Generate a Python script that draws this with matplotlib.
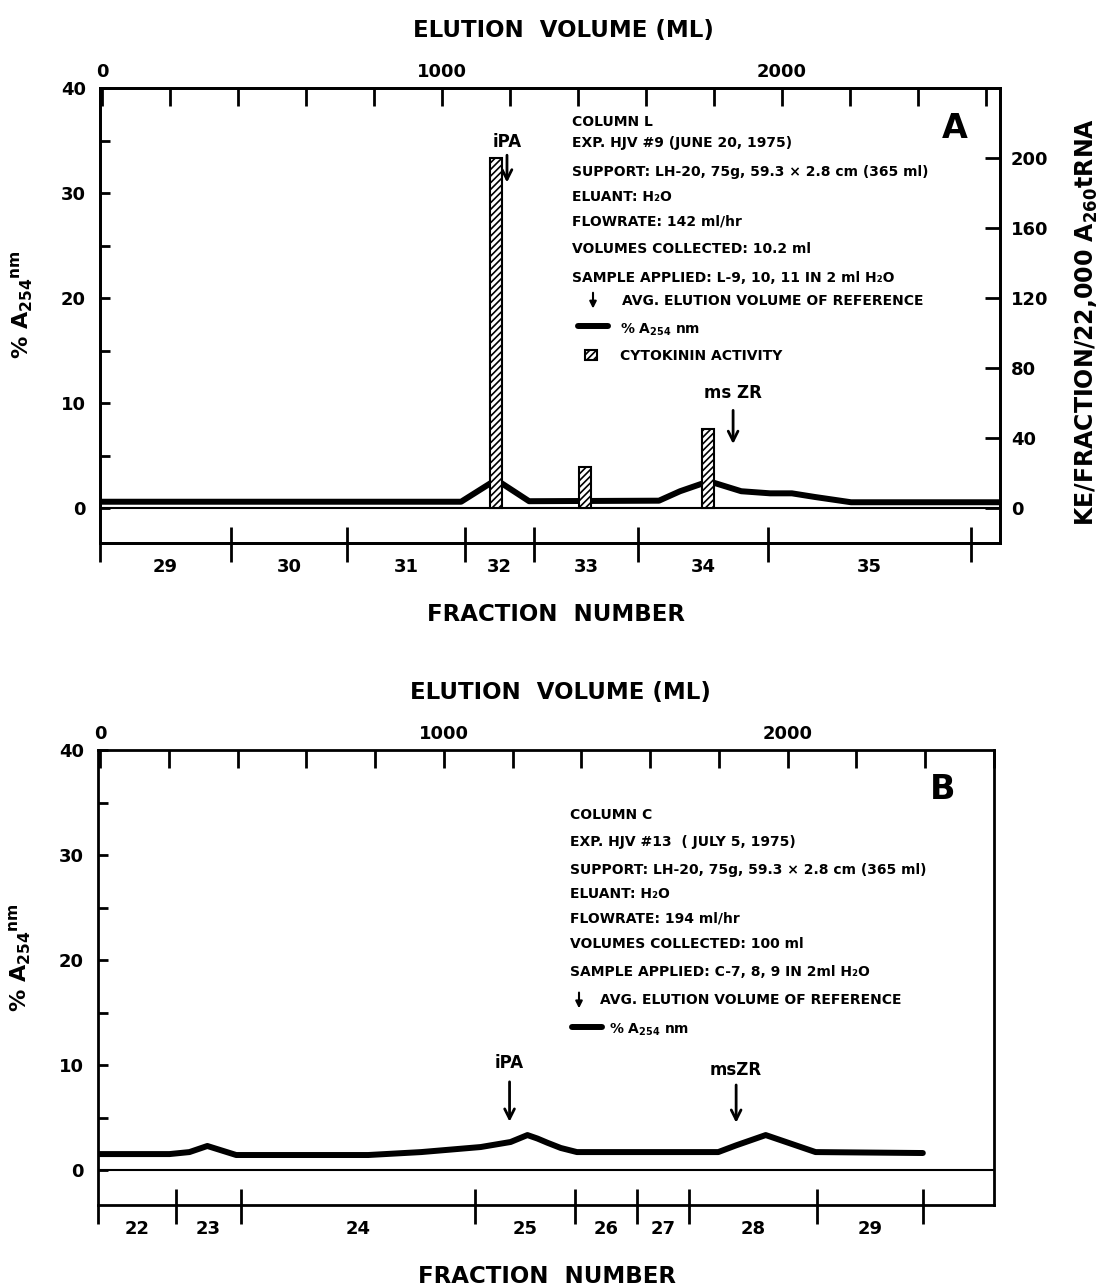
import matplotlib
matplotlib.use('Agg')
import matplotlib.pyplot as plt
from matplotlib.patches import Rectangle

plt.rcParams['font.family'] = ['DejaVu Sans']
plt.rcParams['font.weight'] = 'bold'
plt.rcParams['mathtext.default'] = 'bf'
plt.rcParams['hatch.linewidth'] = 1.2

# ---------------- data ----------------
vol_ticks = list(range(0, 2700, 200))
vol_labelled = [0, 1000, 2000]
pct_ticks = list(range(0, 45, 5))
ke_ticks = list(range(0, 240, 40))

# Panel A
A_curve_ml = [-6, 1056, 1159, 1256, 1638, 1700, 1785, 1880, 1965, 2029, 2097, 2203, 2641]
A_curve_pct = [0.6, 0.6, 2.7, 0.65, 0.7, 1.6, 2.55, 1.6, 1.4, 1.4, 1.05, 0.55, 0.55]
A_bar_ml = [1159, 1421, 1782]
A_bar_ke = [200, 23.4, 45]
A_frac_numbers = [29, 30, 31, 32, 33, 34, 35]
A_frac_edges = [379, 721, 1068, 1271, 1576, 1959, 2556]
A_ref_names = ['iPA', 'ms ZR']
A_ref_ml = [1191, 1856]
A_info = ["COLUMN L",
          "EXP. HJV #9 (JUNE 20, 1975)",
          "SUPPORT: LH-20, 75g, 59.3 \u00d7 2.8 cm (365 ml)",
          "ELUANT: H\u2082O",
          "FLOWRATE: 142 ml/hr",
          "VOLUMES COLLECTED: 10.2 ml",
          "SAMPLE APPLIED: L-9, 10, 11 IN 2 ml H\u2082O"]

# Panel B
B_curve_ml = [-6, 202, 260, 312, 396, 780, 934, 1107, 1194, 1243, 1272, 1301, 1340, 1387, 1798, 1850, 1936, 2081, 2393]
B_curve_pct = [1.52, 1.52, 1.71, 2.29, 1.43, 1.43, 1.71, 2.19, 2.67, 3.33, 3.0, 2.6, 2.1, 1.71, 1.71, 2.35, 3.33, 1.71, 1.62]
B_frac_numbers = [22, 23, 24, 25, 26, 27, 28, 29]
B_frac_edges = [220, 410, 1090, 1382, 1561, 1714, 2084, 2393]
B_ref_names = ['iPA', 'msZR']
B_ref_ml = [1191, 1850]
B_info = ["COLUMN C",
          "EXP. HJV #13  ( JULY 5, 1975)",
          "SUPPORT: LH-20, 75g, 59.3 \u00d7 2.8 cm (365 ml)",
          "ELUANT: H\u2082O",
          "FLOWRATE: 194 ml/hr",
          "VOLUMES COLLECTED: 100 ml",
          "SAMPLE APPLIED: C-7, 8, 9 IN 2ml H\u2082O"]

legend_ref = "AVG. ELUTION VOLUME OF REFERENCE"
legend_curve = "% A$_{254}$ nm"
legend_bar = "CYTOKININ ACTIVITY"

W, H = 1102, 1286
INFO_FS = 10
fig = plt.figure(figsize=(W / 100, H / 100), dpi=100)


def px_rect(left, top, right, bottom):
    return [left / W, 1 - bottom / H, (right - left) / W, (bottom - top) / H]


def make_panel(rect, xlim, curve_ml, curve_pct, edges, numbers, ref_ml, ref_names,
               ref_label_y, ref_arrow, letter, letter_xy, info, info_x, info_y,
               el_x, fr_x):
    ax = fig.add_axes(rect)
    ax.set_xlim(xlim)
    ax.set_ylim(-3.33, 40)
    for s in ax.spines.values():
        s.set_linewidth(2)
    ax.xaxis.tick_top()
    ax.set_xticks(vol_ticks)
    ax.set_xticklabels([str(t) if t in vol_labelled else '' for t in vol_ticks])
    ax.tick_params(axis='x', direction='in', length=13, width=2, pad=5,
                   labelsize=13, top=True, bottom=False)
    ax.set_yticks(pct_ticks)
    ax.set_yticklabels([str(t) if t % 10 == 0 else '' for t in pct_ticks])
    ax.tick_params(axis='y', direction='in', length=7, width=2, pad=10,
                   labelsize=13, right=False)
    ax.axhline(0, color='k', lw=1.5)
    ax.plot(curve_ml, curve_pct, color='k', lw=4.3, solid_joinstyle='round',
            solid_capstyle='round')
    # fraction strip
    ax.vlines(edges, -1.8, -5.14, color='k', lw=2, clip_on=False)
    ax.vlines([xlim[0]], -3.33, -5.14, color='k', lw=2, clip_on=False)
    bounds = [xlim[0]] + list(edges)
    for i, n in enumerate(numbers):
        ax.text((bounds[i] + bounds[i + 1]) / 2, -5.6, str(n), ha='center',
                va='center', fontsize=13, clip_on=False)
    ax.text(fr_x, -10.1, "FRACTION  NUMBER", ha='center', va='center',
            fontsize=16.5, clip_on=False)
    ax.text(el_x, 45.5, "ELUTION  VOLUME (ML)", ha='center', va='center',
            fontsize=16.5, clip_on=False)
    # reference arrows
    for x, name, ly, (y0, y1) in zip(ref_ml, ref_names, ref_label_y, ref_arrow):
        ax.text(x, ly, name, ha='center', va='center', fontsize=12)
        ax.annotate('', xy=(x, y1), xytext=(x, y0),
                    arrowprops=dict(arrowstyle='->,head_length=0.7,head_width=0.35',
                                    lw=2, color='k', shrinkA=0, shrinkB=0))
    ax.text(letter_xy[0], letter_xy[1], letter, ha='center', va='center',
            fontsize=24, fontweight='bold')
    for t, y in zip(info, info_y):
        ax.text(info_x, y, t, ha='left', va='center', fontsize=INFO_FS)
    return ax


# ---------------- panel A ----------------
axA = make_panel(px_rect(100, 88, 1000, 543), (-6, 2641), A_curve_ml, A_curve_pct,
                 A_frac_edges, A_frac_numbers, A_ref_ml, A_ref_names,
                 [34.9, 10.95], [(33.6, 31.0), (9.3, 6.1)], 'A', (2509, 36.1),
                 A_info, 1382, [36.8, 34.8, 32.0, 29.6, 27.3, 24.7, 21.9], 1356, 1335)
# legend rows (A)
axA.annotate('', xy=(1444, 19.0), xytext=(1444, 20.5),
             arrowprops=dict(arrowstyle='-|>,head_length=0.4,head_width=0.2',
                             lw=1.5, color='k', shrinkA=0, shrinkB=0))
axA.text(1529, 19.7, legend_ref, ha='left', va='center', fontsize=INFO_FS)
axA.plot([1400, 1488], [17.3, 17.3], color='k', lw=4.3, solid_capstyle='round')
axA.text(1524, 17.0, legend_curve, ha='left', va='center', fontsize=INFO_FS)
axA.add_patch(Rectangle((1421, 14.05), 35, 1.0, facecolor='white',
                        edgecolor='k', hatch='/////', lw=1.5))
axA.text(1524, 14.5, legend_bar, ha='left', va='center', fontsize=INFO_FS)

axA2 = axA.twinx()
axA2.set_ylim(-20, 240)
for s in axA2.spines.values():
    s.set_linewidth(2)
axA2.set_yticks(ke_ticks)
axA2.tick_params(axis='y', direction='in', length=11, width=2, pad=8, labelsize=13)
axA2.bar(A_bar_ml, A_bar_ke, width=35, color='white', edgecolor='k',
         hatch='/////', linewidth=1.5, zorder=3)

fig.text(22 / W, 1 - 305 / H, "% A$_{254}$$^{nm}$", rotation=90, ha='center',
         va='center', fontsize=16)
fig.text(1087 / W, 1 - 322 / H, "KE/FRACTION/22,000 A$_{260}$tRNA", rotation=90,
         ha='center', va='center', fontsize=17)

# ---------------- panel B ----------------
axB = make_panel(px_rect(98, 750, 994, 1205), (-6, 2584), B_curve_ml, B_curve_pct,
                 B_frac_edges, B_frac_numbers, B_ref_ml, B_ref_names,
                 [10.2, 9.5], [(8.4, 4.6), (8.1, 4.5)], 'B', (2451, 36.2),
                 B_info, 1367, [33.8, 31.2, 28.6, 26.3, 24.0, 21.5, 18.9], 1338, 1300)
axB.annotate('', xy=(1393, 15.4), xytext=(1393, 16.9),
             arrowprops=dict(arrowstyle='-|>,head_length=0.4,head_width=0.2',
                             lw=1.5, color='k', shrinkA=0, shrinkB=0))
axB.text(1454, 16.2, legend_ref, ha='left', va='center', fontsize=INFO_FS)
axB.plot([1373, 1460], [13.6, 13.6], color='k', lw=4.3, solid_capstyle='round')
axB.text(1480, 13.4, legend_curve, ha='left', va='center', fontsize=INFO_FS)

fig.text(20 / W, 1 - 958 / H, "% A$_{254}$$^{nm}$", rotation=90, ha='center',
         va='center', fontsize=16)

fig.savefig('out.png', dpi=100, facecolor='white')
